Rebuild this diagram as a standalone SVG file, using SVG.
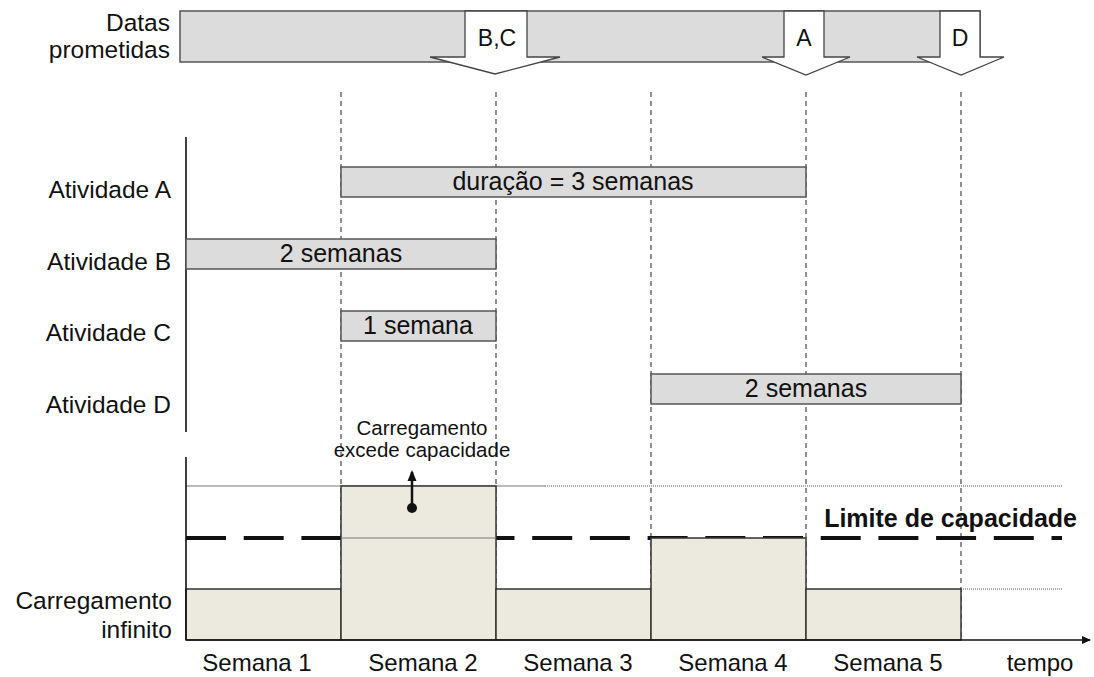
<svg xmlns="http://www.w3.org/2000/svg" width="1094" height="677" viewBox="0 0 1094 677">
  <style>
    text { font-family: "Liberation Sans", Arial, sans-serif; fill: #111; }
    .lbl { font-size: 24.5px; text-anchor: end; }
    .bar { font-size: 25px; text-anchor: middle; }
    .mk { font-size: 23px; text-anchor: middle; }
    .wk { font-size: 24px; text-anchor: middle; }
    .small { font-size: 20.5px; text-anchor: middle; }
    .act { fill: #dcdcdc; stroke: #555; stroke-width: 1.5; }
    .load { fill: #eceadf; stroke: #333; stroke-width: 1.5; }
    .grid { stroke: #555; stroke-width: 1.3; stroke-dasharray: 5 4; fill: none; }
    .axis { stroke: #111; stroke-width: 1.6; fill: none; }
    .mark { fill: #fff; stroke: #444; stroke-width: 1.3; }
  </style>
  <defs>
    <marker id="arr" markerWidth="10" markerHeight="10" refX="8" refY="5" orient="auto" markerUnits="userSpaceOnUse">
      <path d="M0,1 L9,5 L0,9 Z" fill="#111"/>
    </marker>
    <marker id="arrUp" markerWidth="10" markerHeight="12" refX="5" refY="2" orient="0" markerUnits="userSpaceOnUse">
      <path d="M0.5,11 L5,0 L9.5,11 Z" fill="#111"/>
    </marker>
  </defs>

  <!-- promised dates strip -->
  <g id="datas-prometidas">
    <text class="lbl" x="170" y="31">Datas</text>
    <text class="lbl" x="170" y="58">prometidas</text>
    <rect x="180" y="11" width="800" height="51" fill="#dcdcdc" stroke="#555" stroke-width="1.5"/>
    <g id="marco-bc">
      <polygon class="mark" points="465,11 465,57 430,57 495,74 560,57 527,57 527,11"/>
      <text class="mk" x="497" y="46">B,C</text>
    </g>
    <g id="marco-a">
      <polygon class="mark" points="784,11 784,57 762,57 806,75 850,57 824,57 824,11"/>
      <text class="mk" x="804" y="46">A</text>
    </g>
    <g id="marco-d">
      <polygon class="mark" points="940,11 940,57 917,57 961,75 1004,57 980,57 980,11"/>
      <text class="mk" x="960" y="46">D</text>
    </g>
  </g>

  <!-- week boundaries -->
  <g id="grid">
    <line class="grid" x1="341" y1="92" x2="341" y2="640"/>
    <line class="grid" x1="496" y1="92" x2="496" y2="640"/>
    <line class="grid" x1="651" y1="92" x2="651" y2="640"/>
    <line class="grid" x1="806" y1="92" x2="806" y2="640"/>
    <line class="grid" x1="961" y1="92" x2="961" y2="640"/>
  </g>

  <!-- activities -->
  <line class="axis" x1="186" y1="137" x2="186" y2="432"/>
  <g id="atividade-a">
    <text class="lbl" x="171" y="198">Atividade A</text>
    <rect class="act" x="341" y="167" width="465" height="30"/>
    <text class="bar" x="573" y="190">duração = 3 semanas</text>
  </g>
  <g id="atividade-b">
    <text class="lbl" x="171" y="270">Atividade B</text>
    <rect class="act" x="186" y="239" width="310" height="30"/>
    <text class="bar" x="341" y="262">2 semanas</text>
  </g>
  <g id="atividade-c">
    <text class="lbl" x="171" y="341">Atividade C</text>
    <rect class="act" x="341" y="311" width="155" height="30"/>
    <text class="bar" x="418" y="334">1 semana</text>
  </g>
  <g id="atividade-d">
    <text class="lbl" x="171" y="413">Atividade D</text>
    <rect class="act" x="651" y="374" width="310" height="30"/>
    <text class="bar" x="806" y="397">2 semanas</text>
  </g>

  <!-- load chart -->
  <g id="carregamento">
    <line x1="186" y1="486" x2="545" y2="486" stroke="#777" stroke-width="1"/>
    <line x1="545" y1="486" x2="1062" y2="486" stroke="#555" stroke-width="1" stroke-dasharray="1 1"/>
    <line x1="961" y1="589" x2="1062" y2="589" stroke="#555" stroke-width="1" stroke-dasharray="1 1"/>
    <line x1="186" y1="538" x2="1062" y2="538" stroke="#111" stroke-width="4" stroke-dasharray="40 17.7"/>
    <rect class="load" x="186" y="589" width="155" height="51"/>
    <rect class="load" x="341" y="486" width="155" height="154"/>
    <line x1="341" y1="538" x2="496" y2="538" stroke="#777" stroke-width="1.2"/>
    <rect class="load" x="496" y="589" width="155" height="51"/>
    <rect class="load" x="651" y="538" width="155" height="102"/>
    <rect class="load" x="806" y="589" width="155" height="51"/>
    <line class="axis" x1="186" y1="457" x2="186" y2="640"/>
    <line class="axis" x1="186" y1="640" x2="1090" y2="640" marker-end="url(#arr)"/>
    <text x="1077" y="527" font-size="25" font-weight="bold" text-anchor="end">Limite de capacidade</text>
    <text class="lbl" x="172" y="609">Carregamento</text>
    <text class="lbl" x="172" y="638">infinito</text>
  </g>

  <g id="excede">
    <text class="small" x="422" y="435">Carregamento</text>
    <text class="small" x="422" y="457">excede capacidade</text>
    <line x1="412" y1="507" x2="412" y2="472" stroke="#111" stroke-width="2.5" marker-end="url(#arrUp)"/>
    <circle cx="412" cy="508" r="5" fill="#111"/>
  </g>

  <g id="semanas">
    <text class="wk" x="257" y="671">Semana 1</text>
    <text class="wk" x="423" y="671">Semana 2</text>
    <text class="wk" x="578" y="671">Semana 3</text>
    <text class="wk" x="733" y="671">Semana 4</text>
    <text class="wk" x="888" y="671">Semana 5</text>
    <text class="wk" x="1040" y="671">tempo</text>
  </g>
</svg>
